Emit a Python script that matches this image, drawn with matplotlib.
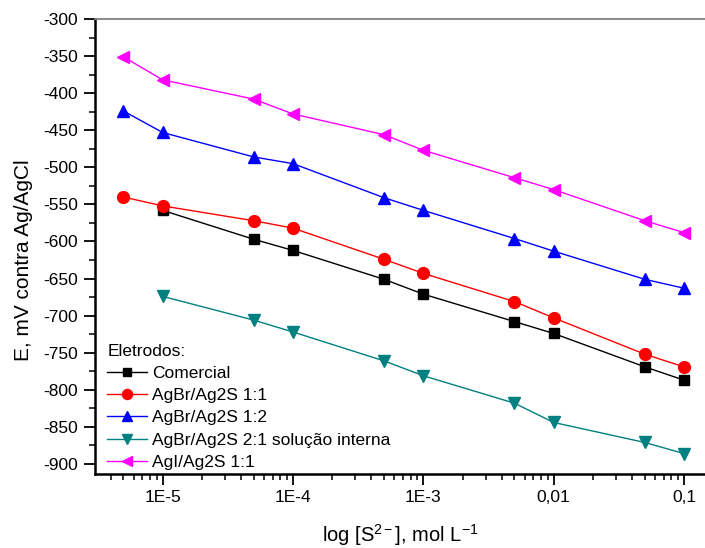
import matplotlib
matplotlib.use("Agg")
import matplotlib.pyplot as plt
from matplotlib.ticker import LogLocator, MultipleLocator, NullFormatter

plt.rcParams['font.family'] = ['Liberation Sans', 'DejaVu Sans']
plt.rcParams['mathtext.fontset'] = 'custom'
plt.rcParams['mathtext.rm'] = 'Liberation Sans'
plt.rcParams['mathtext.it'] = 'Liberation Sans:italic'
plt.rcParams['axes.unicode_minus'] = False

# concentrations, mol/L
conc_full = [5e-6, 1e-5, 5e-5, 1e-4, 5e-4, 1e-3, 5e-3, 1e-2, 5e-2, 1e-1]
conc_short = [1e-5, 5e-5, 1e-4, 5e-4, 1e-3, 5e-3, 1e-2, 5e-2, 1e-1]

comercial = [-558, -597, -612, -651, -671, -708, -724, -769, -787]
agbr_11 = [-540, -552, -572, -582, -624, -643, -681, -703, -752, -769]
agbr_12 = [-424, -453, -486, -495, -541, -558, -596, -613, -651, -663]
agbr_21 = [-674, -706, -722, -761, -781, -818, -844, -871, -886]
agi_11 = [-351, -382, -408, -428, -456, -477, -514, -530, -572, -588]

xtick_vals = [1e-5, 1e-4, 1e-3, 1e-2, 1e-1]
xtick_labels = ['1E-5', '1E-4', '1E-3', '0,01', '0,1']

W, H = 705, 548
fig = plt.figure(figsize=(W / 100, H / 100), dpi=100)
ax = fig.add_axes([95 / W, 1 - 474 / H, (725 - 95) / W, (474 - 19) / H])

ax.plot(conc_short, comercial, '-s', color='black', lw=1, ms=7.5, label='Comercial')
ax.plot(conc_full, agbr_11, '-o', color='red', lw=1, ms=8.5, label='AgBr/Ag2S 1:1')
ax.plot(conc_full, agbr_12, '-^', color='blue', lw=1, ms=9, label='AgBr/Ag2S 1:2')
ax.plot(conc_short, agbr_21, '-v', color='#008080', lw=1, ms=9,
        label='AgBr/Ag2S 2:1 solução interna')
ax.plot(conc_full, agi_11, '-<', color='magenta', lw=1, ms=9, label='AgI/Ag2S 1:1')

ax.set_xscale('log')
ax.set_xlim(3.03e-6, 10 ** (-1 + (725 - 684) / 130.5))
ax.set_ylim(-913.5, -300)

ax.set_xticks(xtick_vals)
ax.set_xticklabels(xtick_labels)
ax.xaxis.set_minor_locator(LogLocator(base=10, subs=range(2, 10), numticks=20))
ax.xaxis.set_minor_formatter(NullFormatter())
ax.yaxis.set_major_locator(MultipleLocator(50))
ax.yaxis.set_minor_locator(MultipleLocator(25))

ax.tick_params(which='major', direction='out', length=8, width=1.3, labelsize=12.5)
ax.tick_params(axis='y', which='major', pad=4)
ax.tick_params(which='minor', direction='out', length=4.5, width=1.1)

ax.spines['left'].set_linewidth(1.8)
ax.spines['bottom'].set_linewidth(1.8)
ax.spines['top'].set_color('#808080')
ax.spines['top'].set_linewidth(1.3)
ax.spines['right'].set_visible(False)

fig.text(24 / W, 1 - 260 / H, 'E, mV contra Ag/AgCl', rotation=90,
         ha='center', va='center', fontsize=15)
fig.text(400 / W, 1 - 542 / H, 'log [S$^{2-}$], mol L$^{-1}$',
         ha='center', va='baseline', fontsize=14.5)

leg = ax.legend(loc='upper left', bbox_to_anchor=(0.0, 0.312), frameon=False,
                title='Eletrodos:', fontsize=12.5, title_fontsize=12.5,
                handlelength=2.3, handletextpad=0.3, labelspacing=0.4,
                borderaxespad=0.3, markerscale=0.85)
leg._legend_box.align = 'left'

fig.savefig('out.png', dpi=100)
